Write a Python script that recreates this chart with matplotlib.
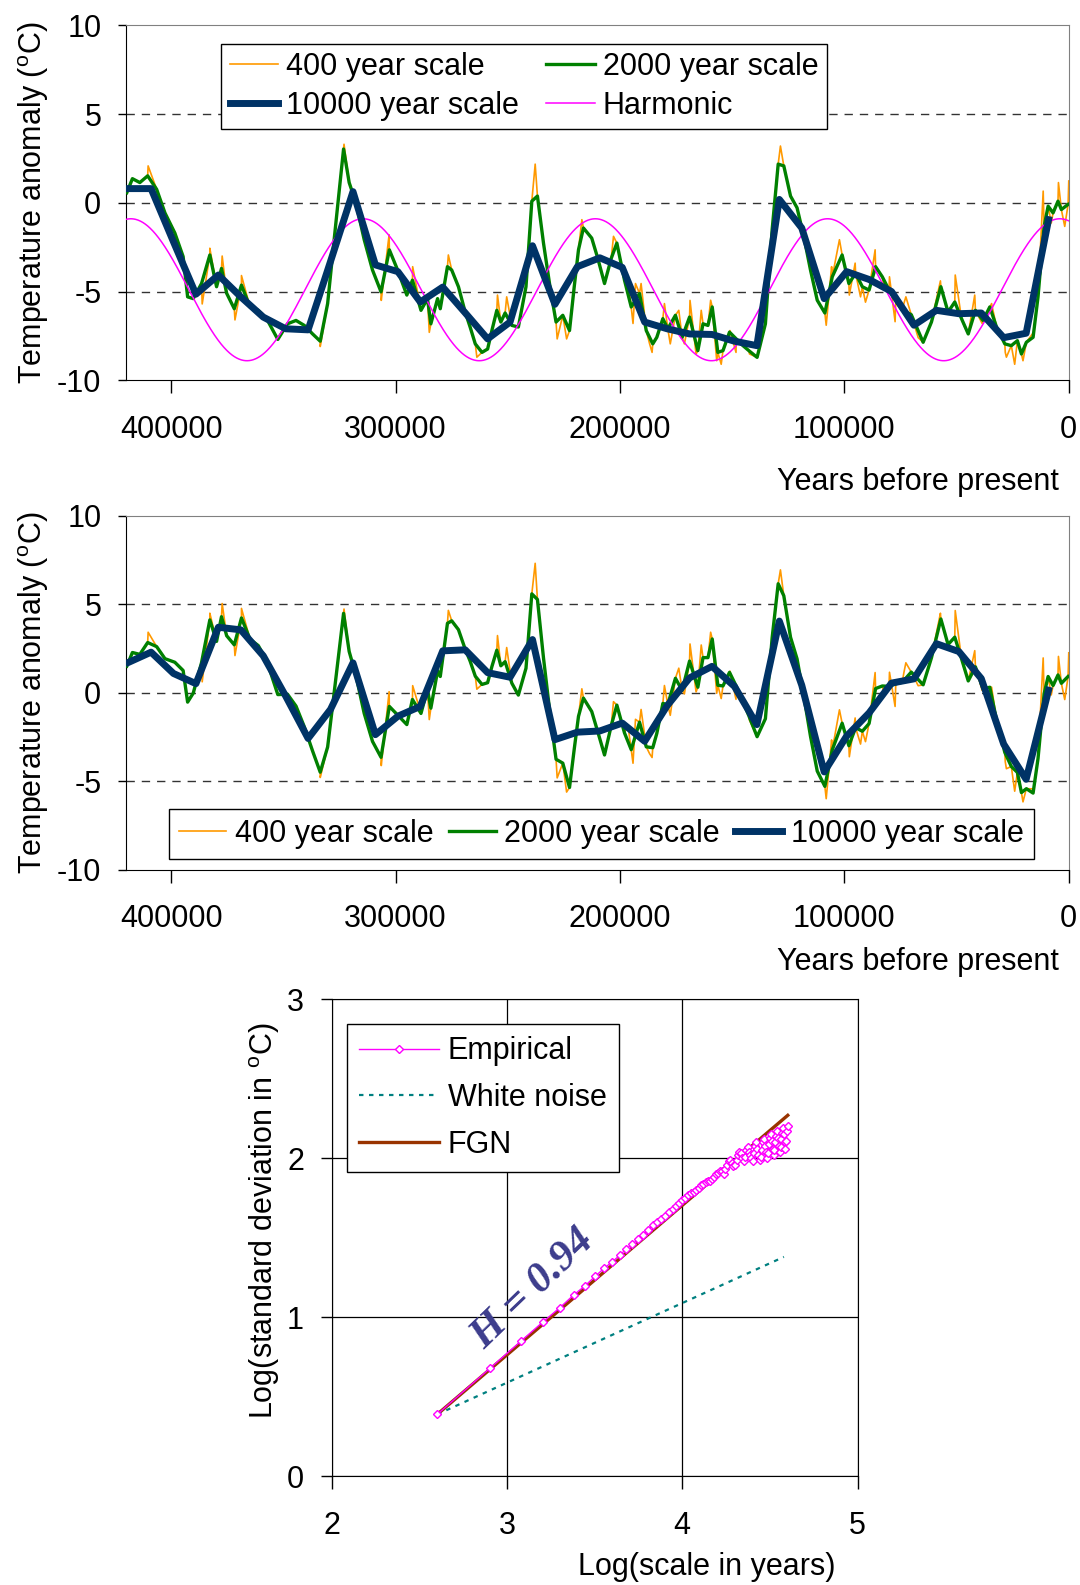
import numpy as np
import matplotlib
matplotlib.use("Agg")
import matplotlib.pyplot as plt

plt.rcParams['font.family'] = ['Liberation Sans', 'DejaVu Sans']
plt.rcParams['mathtext.fontset'] = 'custom'
plt.rcParams['mathtext.rm'] = 'Liberation Sans'
plt.rcParams['mathtext.it'] = 'Liberation Sans'
plt.rcParams['axes.unicode_minus'] = False

# ---------------- data (years before present, kyr -> converted) ----------------
navy_years_k = [419, 409, 399, 389, 379, 369, 359, 349, 339, 329, 319, 309, 299, 289,
                279, 269, 259, 249, 239, 229, 219, 209, 199, 189, 179, 169, 159, 149,
                139, 129, 119, 109, 99, 89, 79, 69, 59, 49, 39, 29, 19, 9]
navy_values = [0.8, 0.8, -2.2, -5.15, -4.07, -5.3, -6.44, -7.1, -7.16, -3.3, 0.63, -3.5,
               -3.88, -5.59, -4.75, -6.2, -7.67, -6.72, -2.42, -5.72, -3.6, -3.1, -3.64,
               -6.72, -7.1, -7.39, -7.42, -7.8, -8.05, 0.19, -1.42, -5.4, -3.88, -4.32,
               -5.0, -6.9, -6.06, -6.25, -6.21, -7.6, -7.35, -0.95]

green_years_k = [419.8, 417.3, 414.0, 410.5, 406.5, 402.8, 398.4, 394.7, 392.7, 390.2,
                 386.5, 382.8, 379.8, 377.6, 375.3, 371.9, 368.7, 364.9, 361.2, 357.5,
                 352.5, 348.2, 344.4, 340.7, 337.0, 333.6, 330.3, 327.4, 323.2, 320.7,
                 317.7, 314.0, 310.3, 306.5, 302.8, 299.1, 295.0, 292.5, 288.7, 285.8,
                 284.3, 281.3, 280.1, 276.9, 275.0, 272.0, 269.0, 266.8, 264.5, 261.5,
                 259.0, 257.1, 254.9, 253.1, 251.2, 248.2, 245.3, 241.9, 239.3, 236.8,
                 234.1, 231.2, 228.5, 225.5, 222.5, 220.4, 218.5, 216.3, 212.6, 209.9,
                 206.9, 203.9, 201.4, 198.0, 195.0, 191.3, 188.3, 185.4, 183.6, 180.9,
                 178.7, 175.3, 172.3, 169.0, 165.3, 163.0, 160.8, 158.9, 156.4, 154.1,
                 151.2, 148.2, 145.2, 142.6, 138.9, 135.2, 132.2, 129.5, 127.0, 124.0,
                 121.1, 118.1, 115.1, 112.1, 108.7, 105.4, 101.0, 98.0, 95.0, 92.0,
                 89.0, 86.1, 83.1, 80.1, 77.1, 74.2, 70.2, 64.9, 61.2, 57.0,
                 53.8, 50.8, 47.8, 44.8, 41.6, 38.2, 35.2, 32.2, 28.5, 25.6,
                 22.9, 21.1, 18.9, 15.9, 13.7, 11.0, 9.2, 7.0, 4.8, 3.3, 0.3]
green_values = [0.57, 1.36, 1.14, 1.52, 0.76, -0.57, -1.7, -3.03, -5.3, -5.4,
                -4.55, -2.94, -4.73, -3.7, -5.1, -5.97, -4.64, -5.87, -6.06, -6.53,
                -7.7, -6.82, -6.63, -6.91, -7.39, -7.8, -5.68, -2.08, 3.03, 1.14,
                0.0, -2.08, -3.79, -5.02, -2.65, -3.79, -5.2, -4.36, -6.06, -5.4,
                -6.82, -5.4, -5.97, -3.6, -3.79, -4.73, -6.16, -7.0, -7.95, -8.43,
                -8.24, -7.2, -6.06, -6.72, -6.21, -6.91, -7.0, -4.73, 0.09, 0.38,
                -2.27, -4.73, -6.72, -6.34, -7.2, -4.73, -2.65, -1.42, -1.99, -3.13,
                -4.55, -3.13, -2.27, -4.36, -5.87, -5.11, -7.2, -7.95, -7.58, -6.53,
                -7.1, -6.34, -7.58, -6.44, -8.33, -6.82, -6.91, -5.87, -8.43, -8.33,
                -7.29, -7.67, -8.05, -8.33, -8.71, -6.82, -1.52, 2.18, 2.08, 0.38,
                -0.28, -1.89, -3.79, -5.49, -6.21, -4.17, -2.94, -4.55, -3.98, -4.73,
                -4.92, -3.6, -4.17, -4.92, -5.49, -6.06, -6.3, -7.86, -6.72, -4.73,
                -6.16, -5.59, -6.53, -7.39, -6.06, -6.63, -5.87, -7.0, -7.95, -8.05,
                -7.77, -8.52, -7.86, -7.58, -5.3, -1.33, -0.19, -0.57, 0.09, -0.38, -0.09]

# extra excursions of the 400-year series beyond the 2000-year curve
orange_extra_years_k = [410.3, 386.2, 382.8, 377.3, 371.6, 368.7, 333.6, 323.0, 306.4,
                        302.9, 292.4, 285.0, 276.5, 263.8, 254.6, 250.5, 237.8, 228.0,
                        223.8, 217.0, 202.9, 196.5, 194.2, 193.1, 190.6, 186.8, 185.7,
                        180.2, 177.6, 173.8, 171.3, 168.8, 166.1, 163.8, 159.6, 156.9,
                        154.9, 151.0, 148.3, 142.3, 128.5, 108.1, 105.7, 102.2, 97.8,
                        95.2, 92.8, 90.6, 86.3, 82.4, 79.9, 77.4, 73.5, 72.6, 67.1,
                        57.2, 50.6, 46.4, 41.9, 38.6, 34.4, 28.3, 27.8, 24.1, 20.4,
                        16.2, 11.4, 7.8, 4.6, 1.8, 0.0]
orange_extra_values = [2.08, -5.7, -2.56, -3.0, -6.6, -4.1, -8.1, 3.3, -5.5,
                       -1.8, -3.6, -7.3, -2.94, -8.7, -5.2, -5.3, 2.18, -7.67,
                       -7.67, -0.95, -1.89, -4.17, -6.8, -4.55, -4.55, -7.95, -8.43,
                       -5.68, -7.95, -6.06, -7.95, -5.5, -8.52, -6.06, -5.49, -8.9,
                       -9.1, -7.2, -8.43, -8.52, 3.2, -6.9, -3.6, -2.08, -5.2,
                       -3.4, -5.3, -5.6, -2.65, -4.73, -4.17, -6.7, -5.68, -5.3, -7.6,
                       -4.4, -4.07, -7.0, -5.2, -6.8, -5.68, -8.43, -8.7, -9.1, -8.9,
                       -7.39, 0.66, -1.14, 1.14, -1.33, 1.23]

# harmonic component (fitted cycle): mean, amplitude, period, time of a peak (years)
harm_mean = -4.9
harm_amp = 4.0
harm_period = 103500.0
harm_peak = 4000.0

# scaling diagram
scale_j = list(range(1, 101))           # aggregation scale = 400 * j years
empirical_log_sd = [0.39, 0.68, 0.85, 0.97, 1.06, 1.14, 1.20, 1.26, 1.31, 1.35,
                    1.39, 1.43, 1.46, 1.49, 1.52, 1.55, 1.58, 1.60, 1.62, 1.64,
                    1.66, 1.68, 1.70, 1.72, 1.74, 1.75, 1.77, 1.78, 1.79, 1.80,
                    1.81, 1.83, 1.84, 1.85, 1.86, 1.86, 1.87, 1.88, 1.90, 1.91,
                    1.92, 1.92, 1.90, 1.93, 1.96, 1.98, 1.99, 1.97, 1.95, 1.96,
                    1.99, 2.02, 2.04, 2.03, 2.00, 1.98, 2.01, 2.05, 2.07, 2.04,
                    2.02, 2.00, 1.98, 2.03, 2.08, 2.10, 2.06, 2.02, 1.99, 2.01,
                    2.05, 2.10, 2.12, 2.08, 2.04, 2.00, 2.03, 2.09, 2.13, 2.15,
                    2.11, 2.06, 2.02, 2.05, 2.10, 2.14, 2.17, 2.13, 2.08, 2.04,
                    2.07, 2.12, 2.16, 2.19, 2.15, 2.10, 2.06, 2.11, 2.17, 2.20]
white_noise_x = [2.602, 4.58]
white_noise_y = [0.39, 1.38]
fgn_x = [2.602, 4.602]
fgn_y = [0.39, 2.27]

# ---------------- derived arrays ----------------
navy_t = np.array(navy_years_k) * 1000
navy_v = np.array(navy_values)
green_t = np.array(green_years_k) * 1000
green_v = np.array(green_values)
ot = np.concatenate([green_t, np.array(orange_extra_years_k) * 1000])
ov = np.concatenate([green_v, np.array(orange_extra_values)])
order = np.argsort(-ot, kind='stable')
orange_t, orange_v = ot[order], ov[order]


def harmonic(t):
    return harm_mean + harm_amp * np.cos(2 * np.pi * (np.asarray(t) - harm_peak) / harm_period)


harm_t = np.linspace(420000, 0, 2000)

ORANGE = '#FF9900'
GREEN = '#008000'
NAVY = '#003366'
MAGENTA = '#FF00FF'
FS = 22

fig = plt.figure(figsize=(10.8, 15.85), dpi=100)


def style_ts(ax):
    ax.set_xlim(420000, 0)
    ax.set_ylim(-10, 10)
    ax.set_yticks([-10, -5, 0, 5, 10])
    ax.set_xticks([400000, 300000, 200000, 100000, 0])
    ax.set_xticklabels(['400000', '300000', '200000', '100000', '0'])
    for y in (-5, 0, 5):
        ax.axhline(y, color='#333333', lw=1.0, ls=(0, (6, 5)), zorder=0)
    ax.tick_params(axis='x', direction='out', length=9, width=1, pad=16, labelsize=FS)
    ax.tick_params(axis='y', direction='out', length=6, width=1, pad=12, labelsize=FS)
    for s in ('top', 'right'):
        ax.spines[s].set_color('#808080')
    for s in ('left', 'bottom'):
        ax.spines[s].set_color('black')
    ax.set_ylabel(r'Temperature anomaly ($^{\mathrm{o}}$C)', fontsize=FS, labelpad=4)


LEGKW = dict(fontsize=FS, frameon=True, fancybox=False, edgecolor='black', framealpha=1,
             borderaxespad=0, loc='upper left')

# ---- top panel ----
ax1 = fig.add_axes([0.117, 0.7601, 0.8726, 0.2239])
style_ts(ax1)
ax1.plot(orange_t, orange_v, color=ORANGE, lw=1.2, label='400 year scale', zorder=2)
ax1.plot(green_t, green_v, color=GREEN, lw=2.4, label='2000 year scale', zorder=3)
ax1.plot(navy_t, navy_v, color=NAVY, lw=5, label='10000 year scale', zorder=4)
ax1.plot(harm_t, harmonic(harm_t), color=MAGENTA, lw=1.1, label='Harmonic', zorder=3)
h, l = ax1.get_legend_handles_labels()
leg1 = ax1.legend([h[0], h[2], h[1], h[3]], [l[0], l[2], l[1], l[3]], ncol=2,
                  bbox_to_anchor=(0.1004, 0.9487), handlelength=1.6, handletextpad=0.25,
                  columnspacing=0.9, labelspacing=0.28, borderpad=0.28, **LEGKW)
leg1.get_frame().set_linewidth(1.0)
fig.text(1059 / 1080, 1 - 482 / 1585, 'Years before present', ha='right', va='center', fontsize=FS)

# ---- middle panel ----
ax2 = fig.add_axes([0.117, 0.4514, 0.8726, 0.2233])
style_ts(ax2)
ax2.plot(orange_t, orange_v - harmonic(orange_t), color=ORANGE, lw=1.2, label='400 year scale', zorder=2)
ax2.plot(green_t, green_v - harmonic(green_t), color=GREEN, lw=2.4, label='2000 year scale', zorder=3)
ax2.plot(navy_t, navy_v - harmonic(navy_t), color=NAVY, lw=5, label='10000 year scale', zorder=4)
leg2 = ax2.legend(ncol=3, bbox_to_anchor=(0.0452, 0.1712), handlelength=1.55,
                  handletextpad=0.27, columnspacing=0.5, borderpad=0.33, **LEGKW)
leg2.get_frame().set_linewidth(1.0)
fig.text(1059 / 1080, 1 - 962 / 1585, 'Years before present', ha='right', va='center', fontsize=FS)

# ---- bottom panel ----
ax3 = fig.add_axes([0.3071, 0.0685, 0.4869, 0.3011])
ax3.set_xlim(2, 5)
ax3.set_ylim(0, 3)
ax3.set_xticks([2, 3, 4, 5])
ax3.set_yticks([0, 1, 2, 3])
ax3.grid(True, color='black', lw=0.9)
ax3.set_axisbelow(True)
ax3.tick_params(axis='x', direction='out', length=9, width=1, pad=16, labelsize=FS)
ax3.tick_params(axis='y', direction='out', length=8, width=1, pad=12, labelsize=FS)
for s in ax3.spines.values():
    s.set_color('black')
emp_x = np.log10(400 * np.array(scale_j))
ax3.plot(fgn_x, fgn_y, color='#993300', lw=2.4, label='FGN', zorder=3)
ax3.plot(white_noise_x, white_noise_y, color='#008080', lw=1.6, ls=(0, (2, 2.5)),
         label='White noise', zorder=3)
ax3.plot(emp_x, empirical_log_sd, color=MAGENTA, lw=1.0, marker='D', ms=4,
         mfc='white', mec=MAGENTA, mew=1.0, label='Empirical', zorder=4)
h3, l3 = ax3.get_legend_handles_labels()
leg3 = ax3.legend([h3[2], h3[1], h3[0]], [l3[2], l3[1], l3[0]],
                  bbox_to_anchor=(0.029, 0.9478), handlelength=2.6, handletextpad=0.3,
                  labelspacing=0.55, borderpad=0.4, **LEGKW)
leg3.get_frame().set_linewidth(1.0)
ax3.text(3.15, 1.18, 'H = 0.94', rotation=44, ha='center', va='center', fontsize=31,
         color='#3C3C8C', family='Liberation Serif', fontweight='bold', style='italic')
fig.text(707 / 1080, 1 - 1567 / 1585, 'Log(scale in years)', ha='center', va='center', fontsize=FS)
fig.text(265 / 1080, 1 - 1221 / 1585, r'Log(standard deviation in $^{\mathrm{o}}$C)', ha='center',
         va='center', rotation=90, fontsize=FS)

fig.savefig('out.png', dpi=100)
